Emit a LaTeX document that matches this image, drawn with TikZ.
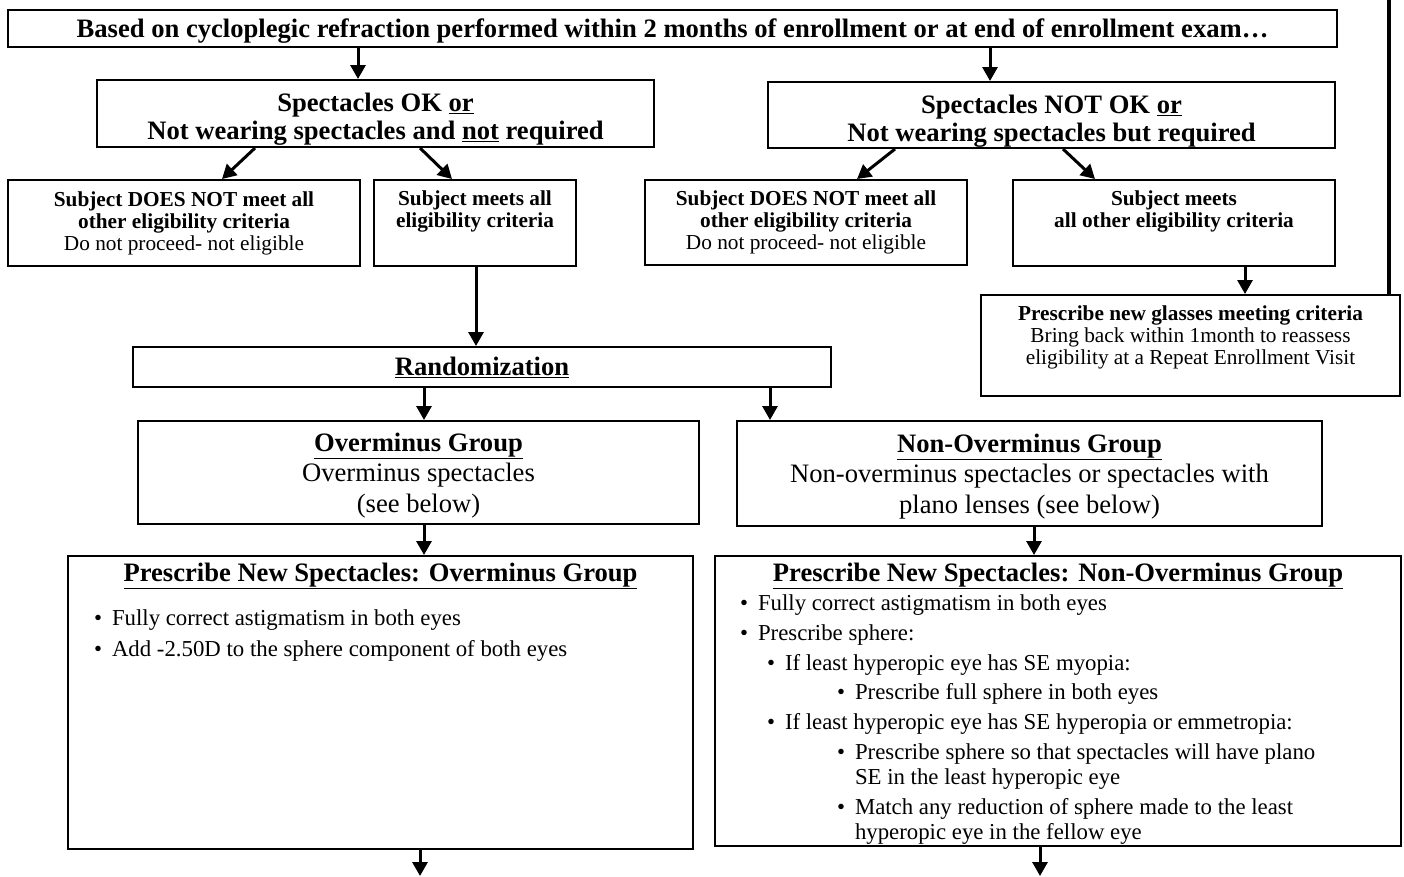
\documentclass[tikz,border=0pt]{standalone}
\usepackage{fontspec}
\setmainfont{Liberation Serif}
\usetikzlibrary{arrows.meta}
\newenvironment{rxitems}[3]{\begin{list}{\textbullet}{%
  \setlength{\leftmargin}{#1}\setlength{\topsep}{#2}\setlength{\itemsep}{#3}%
  \setlength{\parsep}{0pt}\setlength{\partopsep}{0pt}\setlength{\labelsep}{10pt}}}%
  {\end{list}}
\tikzset{
  box/.style={draw, line width=2pt, align=center, inner sep=0pt},
  bigtxt/.style={font=\fontsize{26.6}{28}\selectfont},
  grptxt/.style={font=\fontsize{26.6}{30.5}\selectfont},
  smalltxt/.style={font=\fontsize{21.3}{22}\selectfont},
  arr/.style={line width=3pt, -{Triangle[length=14pt,width=15pt]}},
  returnline/.style={line width=3.5pt},
}
\begin{document}
\begin{tikzpicture}[x=1pt,y=-1pt]
      \useasboundingbox (0,0) rectangle (1404,876) ;
      \node[box,bigtxt,minimum width=1329,minimum height=37] (enroll) at (672.5,28.5)
        {\rule{0pt}{24pt}\textbf{Based on cycloplegic refraction performed within 2 months of enrollment or at end of enrollment exam…}} ;
      \node[box,bigtxt,minimum width=557,minimum height=67] (specok) at (375.5,113.5)
        {\rule{0pt}{30pt}\textbf{Spectacles OK \underline{or}}\\ \textbf{Not wearing spectacles and \underline{not} required}} ;
      \node[box,bigtxt,minimum width=567,minimum height=66] (specnotok) at (1051.5,115)
        {\rule{0pt}{30pt}\textbf{Spectacles NOT OK \underline{or}}\\ \textbf{Not wearing spectacles but required}} ;
      \node[box,smalltxt,minimum width=352,minimum height=86] (failL) at (184,223)
        {\textbf{Subject DOES NOT meet all}\\ \textbf{other eligibility criteria}\\ Do not proceed- not eligible} ;
      \node[box,smalltxt,minimum width=202,minimum height=86] (passL) at (475,223)
        {\textbf{Subject meets all}\\ \textbf{eligibility criteria}\\ \strut} ;
      \node[box,smalltxt,minimum width=322,minimum height=85] (failR) at (806,222.5)
        {\textbf{Subject DOES NOT meet all}\\ \textbf{other eligibility criteria}\\ Do not proceed- not eligible} ;
      \node[box,smalltxt,minimum width=322,minimum height=86] (passR) at (1174,223)
        {\textbf{Subject meets}\\ \textbf{all other eligibility criteria}\\ \strut} ;
      \node[box,smalltxt,minimum width=419,minimum height=101] (newrx) at (1190.5,345.5)
        {\rule{0pt}{23pt}\textbf{Prescribe new glasses meeting criteria}\\ Bring back within 1month to reassess\\
         eligibility at a Repeat Enrollment Visit\\ \strut} ;
      \node[box,bigtxt,minimum width=698,minimum height=40] (random) at (482,367)
        {\textbf{\underline{Randomization}}} ;
      \node[box,grptxt,minimum width=561,minimum height=103] (overgrp) at (418.5,472.5)
        {\rule{0pt}{24pt}\textbf{\underline{Overminus Group}}\\ Overminus spectacles\\ (see below)} ;
      \node[box,grptxt,minimum width=585,minimum height=105] (nonovergrp) at (1029.5,473.5)
        {\rule{0pt}{24pt}\textbf{\underline{Non-Overminus Group}}\\ Non-overminus spectacles or spectacles with\\ plano lenses (see below)} ;
      \node[box,anchor=north west] (overrx) at (67,555) {%
        \begin{minipage}[c][293pt][t]{625pt}
        \vspace*{7pt}
        \centering\fontsize{26.6}{28}\selectfont\bfseries\underline{Prescribe New Spectacles: Overminus Group}\par
        \raggedright\fontsize{22.8}{25}\selectfont\mdseries
        \begin{rxitems}{44pt}{19pt}{6pt}
          \item Fully correct astigmatism in both eyes
          \item Add -2.50D to the sphere component of both eyes
        \end{rxitems}
        \end{minipage}} ;
      \node[box,anchor=north west] (nonoverrx) at (714,555) {%
        \begin{minipage}[c][290pt][t]{686pt}
        \vspace*{7pt}
        \centering\fontsize{26.6}{28}\selectfont\bfseries\underline{Prescribe New Spectacles: Non-Overminus Group}\par
        \raggedright\fontsize{22.8}{25}\selectfont\mdseries
        \begin{rxitems}{43pt}{4pt}{4.8pt}
          \item Fully correct astigmatism in both eyes
          \item Prescribe sphere:
          \begin{rxitems}{27pt}{4.8pt}{4.8pt}
            \item If least hyperopic eye has SE myopia:
            \begin{rxitems}{70pt}{4.8pt}{4.8pt}
              \item Prescribe full sphere in both eyes
            \end{rxitems}
            \item If least hyperopic eye has SE hyperopia or emmetropia:
            \begin{rxitems}{70pt}{4.8pt}{4.8pt}
              \item Prescribe sphere so that spectacles will have plano\newline SE in the least hyperopic eye
              \item Match any reduction of sphere made to the least\newline hyperopic eye in the fellow eye
            \end{rxitems}
          \end{rxitems}
        \end{rxitems}
        \end{minipage}} ;
      \coordinate (back) at (1389,0) ;
      \coordinate (outL) at (420,876) ;
      \coordinate (outR) at (1040,876) ;
      \draw[arr] (358,0 |- enroll.south) -- (358,0 |- specok.north) ;
      \draw[arr] (990,0 |- enroll.south) -- (990,0 |- specnotok.north) ;
      \draw[arr] (255,0 |- specok.south) -- (222,0 |- failL.north) ;
      \draw[arr] (420,0 |- specok.south) -- (452,0 |- passL.north) ;
      \draw[arr] (895,0 |- specnotok.south) -- (857,0 |- failR.north) ;
      \draw[arr] (1063,0 |- specnotok.south) -- (1095,0 |- passR.north) ;
      \draw[arr] (476,0 |- passL.south) -- (476,0 |- random.north) ;
      \draw[arr] (1245,0 |- passR.south) -- (1245,0 |- newrx.north) ;
      \draw[returnline] (1389,0 |- newrx.north) -- (back) ;
      \draw[arr] (424,0 |- random.south) -- (424,0 |- overgrp.north) ;
      \draw[arr] (770,0 |- random.south) -- (770,0 |- nonovergrp.north) ;
      \draw[arr] (424,0 |- overgrp.south) -- (424,0 |- overrx.north) ;
      \draw[arr] (1034,0 |- nonovergrp.south) -- (1034,0 |- nonoverrx.north) ;
      \draw[arr] (420,0 |- overrx.south) -- (outL) ;
      \draw[arr] (1040,0 |- nonoverrx.south) -- (outR) ;
    \end{tikzpicture}
\end{document}
